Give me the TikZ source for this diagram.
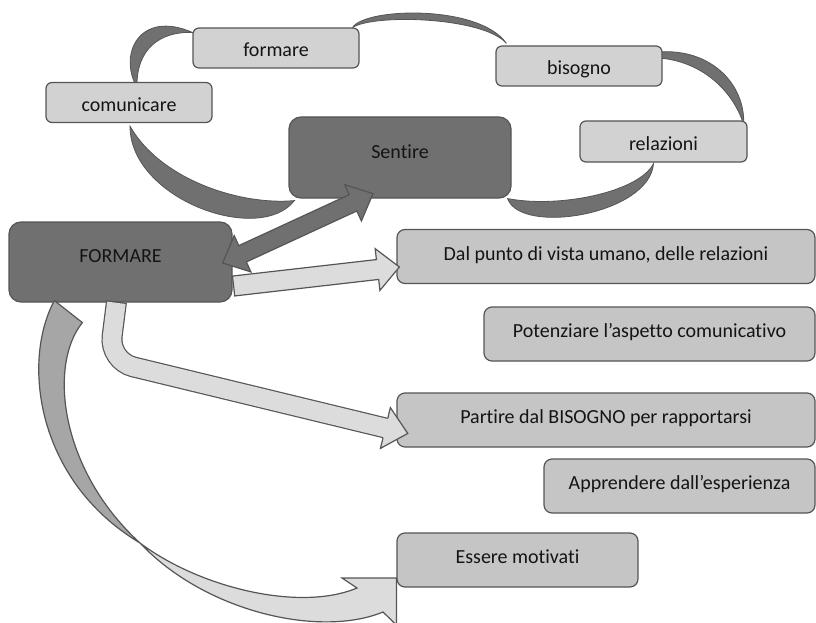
\documentclass[tikz,border=0pt]{standalone}
\usepackage{fontspec}
\setmainfont{Carlito}[Ligatures={NoCommon}]
\usetikzlibrary{calc}

\definecolor{edge}{HTML}{555555}
\definecolor{ink}{HTML}{141414}
\definecolor{pale}{HTML}{D2D2D2}
\definecolor{item}{HTML}{C5C5C5}
\definecolor{hub}{HTML}{707070}
\definecolor{pale2}{HTML}{DCDCDC}
\definecolor{mid}{HTML}{A6A6A6}

\pgfdeclarelayer{back}
\pgfsetlayers{back,main}

% straight block arrow: style, tail, tip, half shaft, half head, head length
\newcommand{\flatarrow}[6]{%
  \path[#1] let \p1=(#2), \p2=(#3), \n1={atan2((\y2)-(\y1),(\x2)-(\x1))} in
    ($(\p1)+({\n1+90}:#4)$)
    -- ($(\p2)+({\n1+180}:#6)+({\n1+90}:#4)$)
    -- ($(\p2)+({\n1+180}:#6)+({\n1+90}:#5)$)
    -- (\p2)
    -- ($(\p2)+({\n1+180}:#6)+({\n1-90}:#5)$)
    -- ($(\p2)+({\n1+180}:#6)+({\n1-90}:#4)$)
    -- ($(\p1)+({\n1-90}:#4)$) -- cycle;}

% block arrow with a head at each end
\newcommand{\twowayarrow}[6]{%
  \path[#1] let \p1=(#2), \p2=(#3), \n1={atan2((\y2)-(\y1),(\x2)-(\x1))} in
    (\p1)
    -- ($(\p1)+(\n1:#6)+({\n1+90}:#5)$)
    -- ($(\p1)+(\n1:#6)+({\n1+90}:#4)$)
    -- ($(\p2)+({\n1+180}:#6)+({\n1+90}:#4)$)
    -- ($(\p2)+({\n1+180}:#6)+({\n1+90}:#5)$)
    -- (\p2)
    -- ($(\p2)+({\n1+180}:#6)+({\n1-90}:#5)$)
    -- ($(\p2)+({\n1+180}:#6)+({\n1-90}:#4)$)
    -- ($(\p1)+(\n1:#6)+({\n1-90}:#4)$)
    -- ($(\p1)+(\n1:#6)+({\n1-90}:#5)$) -- cycle;}

\begin{document}
\begin{tikzpicture}[x=1pt, y=-1pt,
  box/.style={draw=edge, line width=1.2pt, inner sep=0pt, text=ink,
    font=\fontsize{20}{24}\selectfont, text depth=0pt},
  topbox/.style={box, fill=pale, rounded corners=6pt, minimum width=166pt,
    minimum height=40pt, text height=18pt},
  hubbox/.style={box, fill=hub, rounded corners=12pt, minimum width=222pt,
    minimum height=81pt, text height=1pt},
  itembox/.style={box, fill=item, rounded corners=8pt, minimum height=54pt,
    text height=7pt},
  crescent/.style={fill=hub, draw=edge, line width=0.8pt},
  blockline/.style={draw=edge, line width=1.2pt, line join=miter},
]
\useasboundingbox (0,0) rectangle (816,623);
\clip (0,0) rectangle (816,623);

% cycle of concepts
\node[topbox] (comunicare) at (129,102.5) {comunicare};
\node[topbox] (formare) at (276,48) {formare};
\node[topbox] (bisogno) at (579,66) {bisogno};
\node[topbox, minimum width=167pt, minimum height=41pt] (relazioni) at (663.5,141.5) {relazioni};
\node[hubbox] (sentire) at (400,157.5) {Sentire};

% main node and its outcomes
\node[hubbox, minimum width=223pt, minimum height=80pt] (formareMain) at (120.5,262) {FORMARE};
\node[itembox, minimum width=418pt] (umano) at (606,256.5) {Dal punto di vista umano, delle relazioni};
\node[itembox, minimum width=331pt] (comunicativo) at (649.5,334) {Potenziare l’aspetto comunicativo};
\node[itembox, minimum width=418pt] (partire) at (606,420) {Partire dal BISOGNO per rapportarsi};
\node[itembox, minimum width=271pt] (esperienza) at (679.5,486) {Apprendere dall’esperienza};
\node[itembox, minimum width=241pt] (motivati) at (517.5,560) {Essere motivati};

% crescent links of the cycle, behind the boxes
\begin{pgfonlayer}{back}
  \coordinate (c1a) at ($(comunicare.north)+(8,5.5)$);
  \coordinate (c1b) at ($(formare.north west)+(0,5)$);
  \filldraw[crescent] (c1a) .. controls +(-19,-33) and +(-53,-23) .. (c1b)
    .. controls +(-33,-1) and +(-1,-38) .. (c1a) -- cycle;

  \coordinate (c2a) at ($(formare.north east)+(-7,0)$);
  \coordinate (c2b) at ($(bisogno.north west)+(11,-2)$);
  \filldraw[crescent] (c2a) .. controls +(13,-20) and +(-27,-39) .. (c2b)
    .. controls +(-22,-26) and +(23,-14) .. (c2a) -- cycle;

  \coordinate (c3a) at ($(bisogno.east)+(-4,-14)$);
  \coordinate (c3c) at ($(bisogno.east)+(-4,-8)$);
  \coordinate (c3b) at ($(relazioni.north east)+(-4,4)$);
  \filldraw[crescent] (c3a) .. controls +(52,-4) and +(2,-40) .. (c3b)
    .. controls +(-11,-35) and +(42,3) .. (c3c) -- cycle;

  \coordinate (c4a) at ($(relazioni.south)+(-10,1)$);
  \coordinate (c4b) at ($(sentire.south east)+(-4,0)$);
  \filldraw[crescent] (c4a) .. controls +(-4,51) and +(13,37) .. (c4b)
    .. controls +(53,10) and +(-14,28) .. (c4a) -- cycle;

  \coordinate (c5a) at ($(comunicare.south)+(1,3)$);
  \coordinate (c5b) at ($(sentire.south west)+(6,2)$);
  \filldraw[crescent] (c5a) .. controls +(0,73) and +(-35,45) .. (c5b)
    .. controls +(-55,5) and +(30,53) .. (c5a) -- cycle;
\end{pgfonlayer}

% FORMARE <-> Sentire
\coordinate (dA) at ($(formareMain.east)+(-10,1)$);
\coordinate (dB) at ($(sentire.south)+(-27,-5)$);
\twowayarrow{fill=hub, blockline}{dA}{dB}{9pt}{20pt}{22pt}

% FORMARE -> first outcome
\coordinate (lA) at ($(formareMain.east)+(1,24)$);
\coordinate (lB) at ($(umano.west)+(3,10.5)$);
\flatarrow{fill=pale2, blockline}{lA}{lB}{10pt}{21pt}{22pt}

% bent arrow FORMARE -> Partire
\coordinate (bA) at ($(formareMain.south)+(-4,-1)$);
\coordinate (bC) at (109,361);
\coordinate (bB) at ($(partire.west)+(-11,8)$);
\draw[edge, line width=21pt, rounded corners=25pt] (bA) -- (bC) -- (bB);
\draw[pale2, line width=18.6pt, rounded corners=25pt, shorten <=1.2pt, shorten >=-3pt]
  (bA) -- (bC) -- (bB);
\filldraw[fill=pale2, blockline] let \p1=(bC), \p2=(bB),
  \n1={atan2((\y2)-(\y1),(\x2)-(\x1))} in
  ($(\p2)+({\n1+90}:9.9pt)$) -- ($(\p2)+({\n1+90}:21pt)$) -- ($(\p2)+(\n1:23pt)$)
  -- ($(\p2)+({\n1-90}:21pt)$) -- ($(\p2)+({\n1-90}:9.9pt)$);

% twisted curved arrow FORMARE -> Essere motivati
\coordinate (tL) at ($(formareMain.south west)+(46,-2)$);
\coordinate (tR) at ($(formareMain.south west)+(74,20)$);
\coordinate (tw) at (140,543);
\coordinate (nU) at (357,588);
\coordinate (hU) at (342,578);
\coordinate (hT) at ($(motivati.west)+(0,18)$);
\coordinate (hB) at ($(motivati.west)+(0,65)$);
\coordinate (nD) at (383,612);
\filldraw[fill=mid, blockline] (tL) -- (tR) .. controls (48,365) and (60,470) .. (tw)
  .. controls (35,480) and (22,360) .. (tL) -- cycle;
\filldraw[fill=pale2, blockline] (tw) .. controls (200,588) and (300,612) .. (nU)
  -- (hU) -- (hT) -- (hB) -- (nD) .. controls (320,638) and (205,612) .. (tw) -- cycle;
\end{tikzpicture}
\end{document}
